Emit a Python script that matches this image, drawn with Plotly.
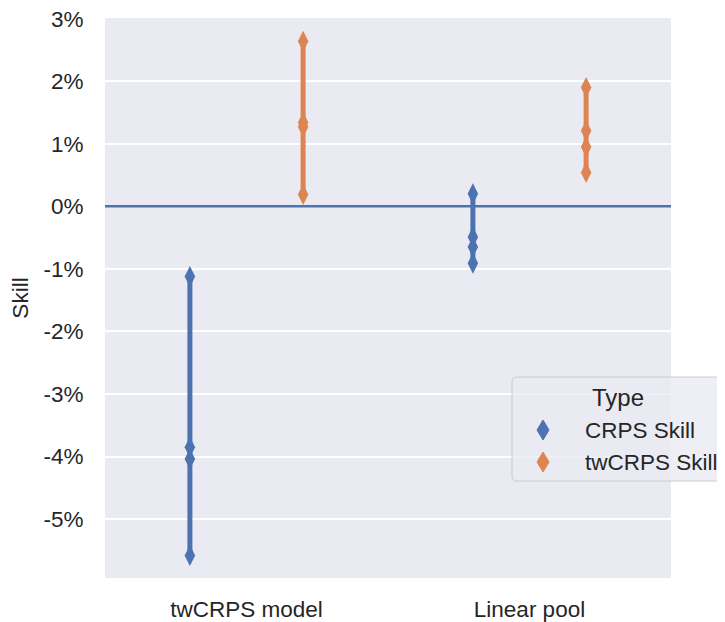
import plotly.graph_objects as go

categories = ["twCRPS model", "Linear pool"]
series_names = ["CRPS Skill", "twCRPS Skill"]
crps_skill = [[-0.0112, -0.0385, -0.0404, -0.0558], [0.0020, -0.0049, -0.0065, -0.0091]]
twcrps_skill = [[0.0264, 0.0134, 0.0127, 0.0019], [0.0190, 0.0121, 0.0095, 0.0054]]
y_ticks = [0.03, 0.02, 0.01, 0.0, -0.01, -0.02, -0.03, -0.04, -0.05]
y_tick_labels = ["3%", "2%", "1%", "0%", "-1%", "-2%", "-3%", "-4%", "-5%"]
legend_title = "Type"

colors = ["#4c72b0", "#dd8452"]
dodge = [-0.2, 0.2]
font = "Liberation Sans, Arial, sans-serif"

W, H = 725, 622
L, R, T, B = 97, 62, 10, 52
FS = 22.5
PW, PH = W - L - R, H - T - B


def fx(px):
    # screen pixel -> paper fraction (page has an 8px body offset)
    return (px - 8 - L) / PW


def fy(py):
    return (H - B - (py - 8)) / PH


fig = go.Figure()
for s, (name, vals) in enumerate(zip(series_names, [crps_skill, twcrps_skill])):
    for ci, cat in enumerate(categories):
        v = vals[ci]
        xpos = [ci + dodge[s]] * len(v)
        fig.add_trace(go.Scatter(
            x=xpos, y=v, mode="lines+markers",
            line=dict(color=colors[s], width=5),
            marker=dict(symbol="diamond-tall", size=15, color=colors[s]),
            name=name, showlegend=False,
        ))

fig.add_hline(y=0, line=dict(color="#4c72b0", width=2.5))

# legend box (extends past the right edge, as in the reference)
sh = -10
bx0, by0, bx1, by1, rr = 522 + sh, 377, 745, 481, 5
path = (f"M {fx(bx0 + rr)},{fy(by0)} L {fx(bx1)},{fy(by0)} L {fx(bx1)},{fy(by1)} "
        f"L {fx(bx0 + rr)},{fy(by1)} Q {fx(bx0)},{fy(by1)} {fx(bx0)},{fy(by1 - rr)} "
        f"L {fx(bx0)},{fy(by0 + rr)} Q {fx(bx0)},{fy(by0)} {fx(bx0 + rr)},{fy(by0)} Z")
fig.add_shape(type="path", path=path, xref="paper", yref="paper",
              fillcolor="rgba(234,234,242,0.8)", line=dict(color="#cccccc", width=1),
              layer="above")
fig.add_annotation(x=fx(628 + sh), y=fy(397), xref="paper", yref="paper", text=legend_title,
                   showarrow=False, xanchor="center", yanchor="middle",
                   font=dict(size=24, color="#262626"))
for s, name in enumerate(series_names):
    cy = 430 + 32 * s
    cx = 553 + sh
    dp = (f"M {fx(cx)},{fy(cy - 10)} L {fx(cx + 6)},{fy(cy)} L {fx(cx)},{fy(cy + 10)} "
          f"L {fx(cx - 6)},{fy(cy)} Z")
    fig.add_shape(type="path", path=dp, xref="paper", yref="paper",
                  fillcolor=colors[s], line=dict(color=colors[s], width=1), layer="above")
    fig.add_annotation(x=fx(593 + sh), y=fy(cy), xref="paper", yref="paper", text=name,
                       showarrow=False, xanchor="left", yanchor="middle",
                       font=dict(size=FS, color="#262626"))

fig.update_layout(
    width=W, height=H,
    margin=dict(l=L, r=R, t=T, b=B, autoexpand=False),
    paper_bgcolor="white", plot_bgcolor="#eaeaf2",
    font=dict(family=font, size=FS, color="#262626"),
    xaxis=dict(range=[-0.5, 1.5], tickvals=[0, 1], ticktext=categories,
               showgrid=False, zeroline=False, ticks="outside", ticklen=11,
               tickcolor="rgba(0,0,0,0)", automargin=False,
               tickfont=dict(size=FS)),
    yaxis=dict(range=[-0.0594, 0.0301], tickvals=y_ticks, ticktext=y_tick_labels,
               showgrid=True, gridcolor="white", gridwidth=2, zeroline=False,
               ticks="outside", ticklen=16, tickcolor="rgba(0,0,0,0)",
               automargin=False, ticklabeloverflow="allow",
               title=dict(text="Skill", font=dict(size=FS), standoff=10),
               tickfont=dict(size=FS)),
    showlegend=False,
)

fig.write_html("out.html")
